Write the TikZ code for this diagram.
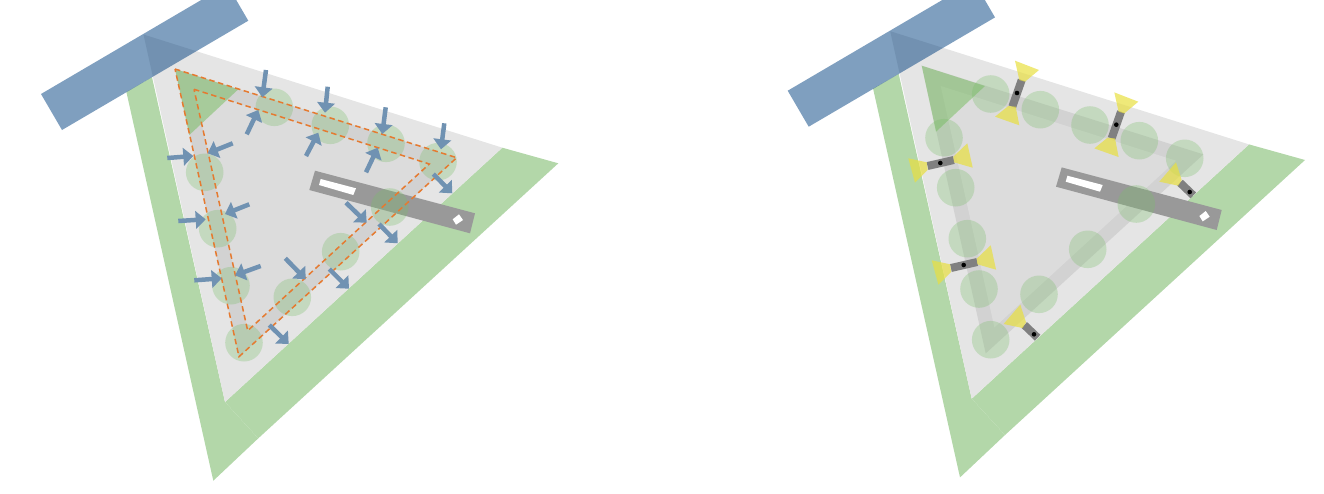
\documentclass[tikz,border=0pt]{standalone}
\usetikzlibrary{arrows.meta}
\definecolor{barblue}{HTML}{003F7F}
\definecolor{bandgreen}{HTML}{B3D7A9}
\definecolor{outergrey}{HTML}{E5E5E5}
\definecolor{bandgrey}{HTML}{D2D2D2}
\definecolor{innergrey}{HTML}{DCDCDC}
\definecolor{spotgreen}{HTML}{7ABE6A}
\definecolor{cornergreen}{HTML}{74BC5C}
\definecolor{arrowblue}{HTML}{7092B2}
\definecolor{dashorange}{HTML}{E57A30}
\definecolor{lampyellow}{HTML}{E8DF40}
\tikzset{
  barshape/.style={fill=barblue,fill opacity=.5,draw=none},
  greenband/.style={fill=bandgreen,draw=none},
  spot/.style={fill=spotgreen,fill opacity=.3,draw=none},
  corner/.style={fill=cornergreen,fill opacity=.5,draw=none},
  outline/.style={draw=dashorange,line width=1.5pt,dash pattern=on 5.5pt off 3.5pt},
  inarrow/.style={draw=arrowblue,line width=4.5pt,-{Triangle[length=10pt,width=17.5pt]}},
  lamp/.style={fill=lampyellow,fill opacity=.7,draw=none},
  arm/.style={draw=black!50,line width=8pt},
  pivot/.style={fill=black,draw=none},
}
% common base of a panel
\newcommand{\panelbase}{%
  \fill[greenband] (152,77.2) -- (225,402) -- (258.3,438.3) -- (213.3,480.7) -- (126.4,92) -- cycle;
  \fill[greenband] (225,402) -- (502.3,147.7) -- (558.3,163.3) -- (258.3,438.3) -- cycle;
  \fill[outergrey] (143.5,34.5) -- (502.3,147.7) -- (225,402) -- cycle;
  \fill[bandgrey] (175,69) -- (456.7,157.7) -- (239,356.7) -- cycle;
  \fill[innergrey] (194,89.3) -- (429.3,164) -- (247.7,330.7) -- cycle;
  \fill[corner] (175,69) -- (238.3,89.3) -- (189.3,135) -- cycle;
  \fill[barshape] (41,94) -- (62,130) -- (248.3,20.7) -- (227.3,-15.3) -- cycle;
  \fill[black!40] (315,170.7) -- (309.3,190) -- (470,233.3) -- (475,213.3) -- cycle;
  \fill[white] (320.7,179) -- (319,185) -- (353.3,195) -- (356,188.3) -- cycle;
  \fill[white] (452.7,219.3) -- (459,214.3) -- (463,220) -- (456,224.7) -- cycle;
}
\newcommand{\farrow}[2]{\draw[inarrow] #1 -- #2;}
\newcommand{\spotat}[1]{\fill[spot] #1 circle (18.8);}
% lamp pair along a near-vertical arm
\newcommand{\armA}[1]{\begin{scope}[shift={#1}]
  \draw[arm] (4.7,-13) -- (-4.7,13.7);
  \fill[lamp] (-2,-32.3) -- (22,-23) -- (8,-11.3) -- (2.3,-13) -- cycle;
  \fill[lamp] (-22,23.7) -- (2.3,32.3) -- (-1.3,13.7) -- (-8.7,13) -- cycle;
  \fill[pivot] (0,0) circle (2.3);
\end{scope}}
\newcommand{\armB}[1]{\begin{scope}[shift={#1}]
  \draw[arm] (-12.8,3) -- (13.5,-3);
  \fill[lamp] (-32,-4.7) -- (-25.3,19.7) -- (-12.6,7) -- (-13.6,-0.7) -- cycle;
  \fill[lamp] (27,-19.7) -- (32.4,4.7) -- (13.7,-0.7) -- (13,-6.3) -- cycle;
  \fill[pivot] (0,0) circle (2.3);
\end{scope}}
\newcommand{\armC}[1]{\begin{scope}[shift={#1}]
  \draw[arm] (-9.7,-9.3) -- (3.6,3.4);
  \fill[lamp] (-13.7,-29.7) -- (-30.4,-10.3) -- (-11.4,-6.3) -- (-8,-12) -- cycle;
  \fill[pivot] (0,0) circle (2.3);
\end{scope}}
\begin{document}
\begin{tikzpicture}[x=1pt,y=-1pt]
\useasboundingbox (0,0) rectangle (1324,493);
\clip (0,0) rectangle (1324,493);
% left panel
\panelbase
\foreach \c in {(274.3,107.3),(330.3,125.3),(386,143.3),(438,161.7),(389.7,207),(340.7,251.7),(292.3,297.3),(244,342.7),(231,285.7),(217.7,228.7),(204.7,172.3)}{\spotat{\c}}
\draw[outline] (175,69) -- (456.7,157.7) -- (239,356.7) -- cycle;
\draw[outline] (194,89.3) -- (429.3,164) -- (247.7,330.7) -- cycle;
\farrow{(266,70)}{(262.3,97.3)}
\farrow{(327.7,86.7)}{(325,112.7)}
\farrow{(385.7,107.3)}{(382.3,134)}
\farrow{(444.3,123.3)}{(441,149.3)}
\farrow{(246.7,134.3)}{(258.3,110)}
\farrow{(306,156)}{(318.3,132.7)}
\farrow{(366,172.3)}{(377.7,147.7)}
\farrow{(167.3,158)}{(193.3,156)}
\farrow{(178.3,221)}{(205.7,219.3)}
\farrow{(194.3,280.3)}{(221.7,278.3)}
\farrow{(232.7,143.3)}{(207.7,153.3)}
\farrow{(249.3,204.3)}{(225,214)}
\farrow{(260.7,266)}{(235,275.3)}
\farrow{(433.3,174)}{(452.3,193.3)}
\farrow{(346,202.7)}{(366.7,222.7)}
\farrow{(379,224)}{(397.7,243.3)}
\farrow{(285.3,258.3)}{(305.7,279.3)}
\farrow{(329.3,269)}{(349,288.7)}
\farrow{(269.3,325)}{(288.7,344)}
% right panel
\begin{scope}[shift={(746.7,-3.3)}]
\panelbase
\end{scope}
\foreach \c in {(944,137.7),(955.7,187.7),(990.7,94),(1040.3,109.7),(1090,125),(1139.3,140.7),(1184.7,158.3),(1136.3,204),(1087.7,249.3),(1039,294.3),(990.7,339.7),(979,289),(967.3,238.7)}{\spotat{\c}}
\armA{(1017,93)}
\armA{(1116.3,124.7)}
\armB{(940.3,163)}
\armB{(963.7,265)}
\armC{(1189.7,192)}
\armC{(1034,334.3)}
\end{tikzpicture}
\end{document}
